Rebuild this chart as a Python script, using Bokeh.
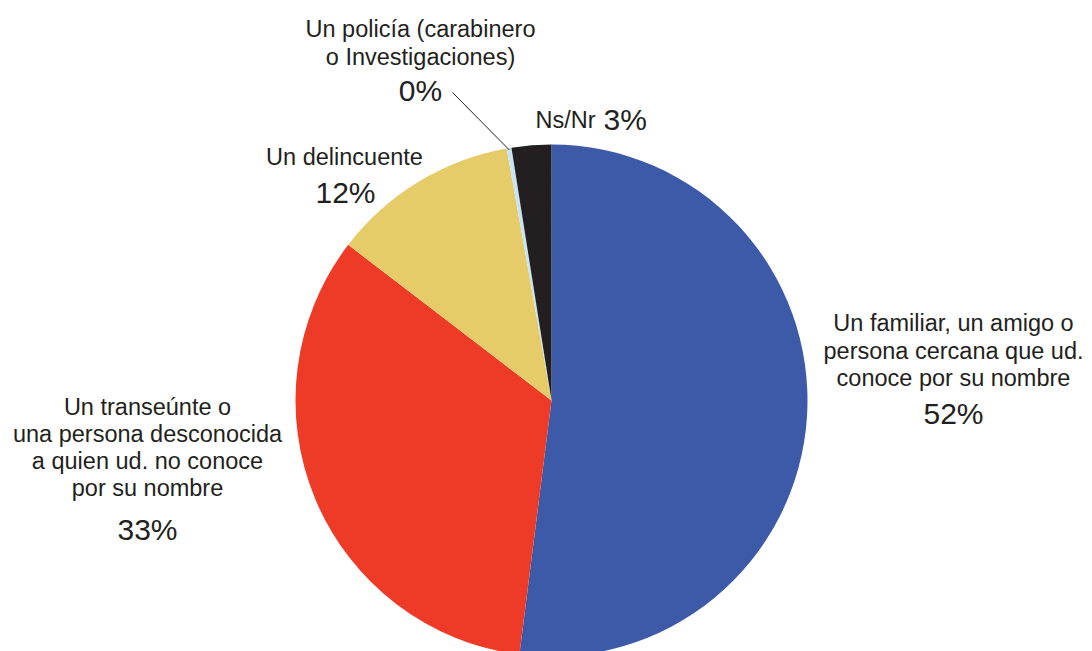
import numpy as np
from bokeh.plotting import figure
from bokeh.models import Range1d, ColumnDataSource
from bokeh.core.properties import value
from bokeh.embed import file_html
from bokeh.resources import INLINE

# Data (clockwise from 12 o'clock)
categories = [
    "Un familiar, un amigo o persona cercana que ud. conoce por su nombre",
    "Un transeúnte o una persona desconocida a quien ud. no conoce por su nombre",
    "Un delincuente",
    "Un policía (carabinero o Investigaciones)",
    "Ns/Nr",
]
shares = [52.0, 33.4, 11.8, 0.3, 2.5]
pct_labels = ["52%", "33%", "12%", "0%", "3%"]
colors = ["#3d5aa8", "#ee3b27", "#e6cc69", "#c6e4f4", "#231f20"]

TXT = "#231f20"
FONT = value("Liberation Sans")

W, H = 1092, 651
p = figure(width=W, height=H, output_backend="svg", toolbar_location=None,
           x_range=Range1d(0, W), y_range=Range1d(-H, 0),
           min_border=0)
p.axis.visible = False
p.grid.visible = False
p.outline_line_color = None
p.background_fill_color = "white"
p.border_fill_color = "white"

cx, cy, r = 551, -400, 256
frac = np.array(shares) / sum(shares)
cum = np.concatenate([[0], np.cumsum(frac)])
start = np.pi / 2 - cum[:-1] * 2 * np.pi
end = np.pi / 2 - cum[1:] * 2 * np.pi

src = ColumnDataSource(dict(start=start, end=end, color=colors))
p.wedge(x=cx, y=cy, radius=r, start_angle="start", end_angle="end",
        direction="clock", fill_color="color", line_color=None, source=src)

# leader line to the tiny "policía" slice
mid = (start[3] + end[3]) / 2
p.line(x=[452, cx + (r - 2) * np.cos(mid)], y=[-92, cy + (r - 2) * np.sin(mid)],
       line_color=TXT, line_width=1)

DY = 10
def txt(x, y, s, size, align="center"):
    p.text(x=[x], y=[-(y - DY)], text=[s], text_font=FONT, text_font_size=size,
           text_color=TXT, text_align=align, text_baseline="alphabetic")

S, L = "23.5px", "30px"
# Right label (52%)
txt(953, 332, "Un familiar, un amigo o", S)
txt(953, 360, "persona cercana que ud.", S)
txt(953, 387, "conoce por su nombre", S)
txt(953, 423, pct_labels[0], L)

# Left label (33%)
txt(147, 416, "Un transeúnte o", S)
txt(147, 443, "una persona desconocida", S)
txt(147, 470, "a quien ud. no conoce", S)
txt(147, 497, "por su nombre", S)
txt(147, 539, pct_labels[1], L)

# Delincuente (12%)
txt(344, 166, "Un delincuente", S)
txt(345, 202, pct_labels[2], L)

# Policía (0%)
txt(420, 38, "Un policía (carabinero", S)
txt(420, 66, "o Investigaciones)", S)
txt(420, 100, pct_labels[3], L)

# Ns/Nr (3%)
txt(535, 129, "Ns/Nr", S, "left")
txt(603, 129, pct_labels[4], L, "left")

open("out.html", "w").write(file_html(p, INLINE))
